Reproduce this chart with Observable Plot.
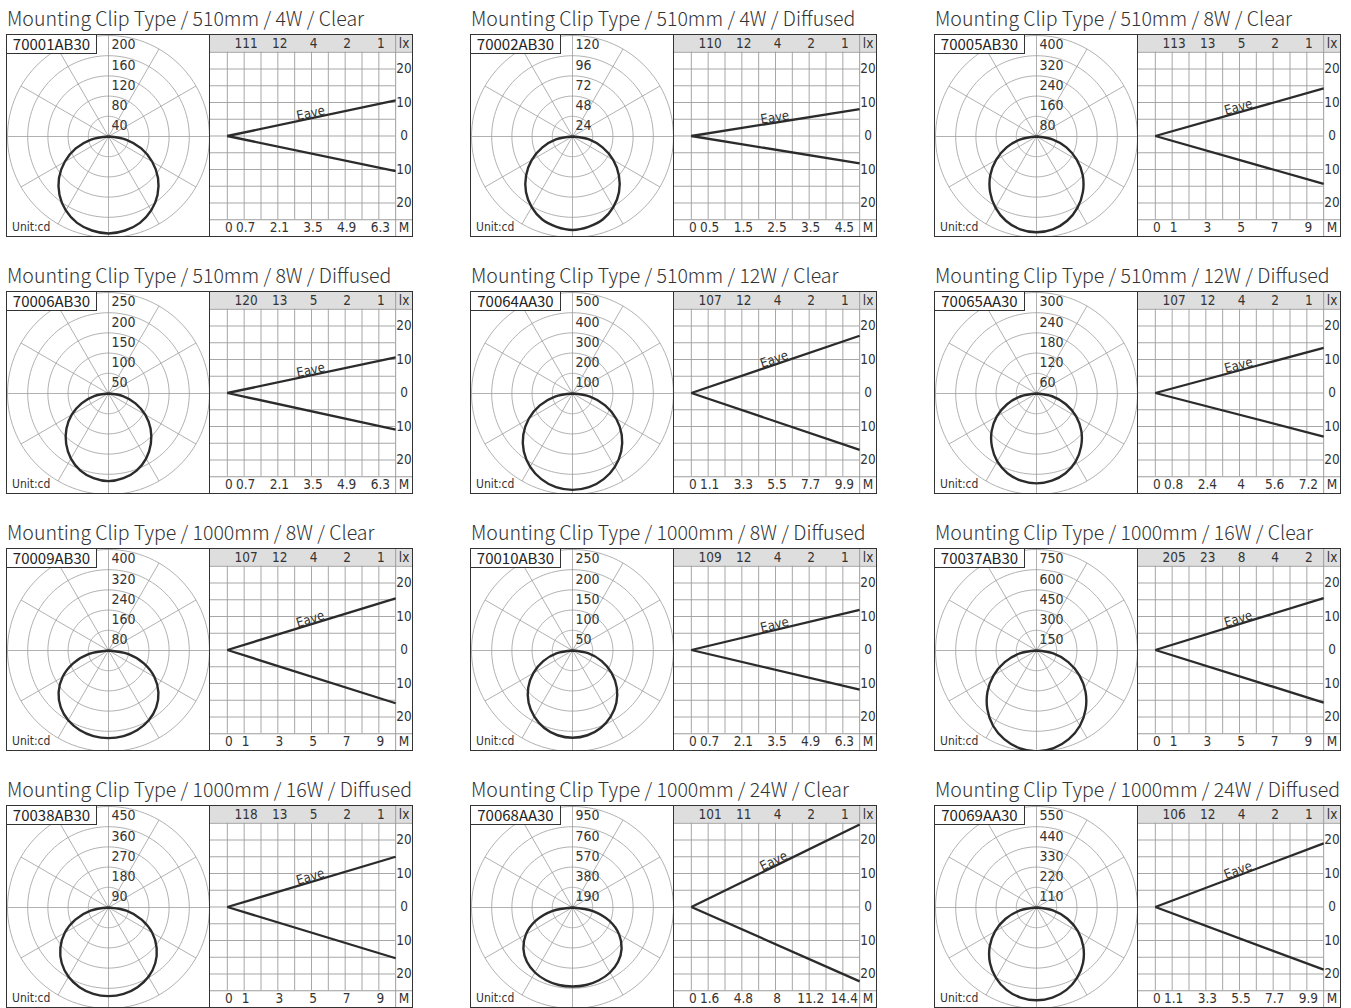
<!DOCTYPE html>
<html><head><meta charset="utf-8">
<script src="https://cdn.jsdelivr.net/npm/d3@7"></script>
<script src="https://cdn.jsdelivr.net/npm/@observablehq/plot@0.6"></script>
<style>
body{margin:0;background:#fff;}
#root{position:relative;width:1351px;height:1008px;overflow:hidden;}
.title{position:absolute;font-family:"Noto Sans CJK JP","Noto Sans",sans-serif;font-weight:300;font-size:19.5px;color:#333;white-space:nowrap;line-height:1;}
.box{position:absolute;width:405px;height:201px;border:1px solid #333;}
.polar{position:absolute;left:0;top:0;}
.divider{position:absolute;left:202px;top:0;width:1px;height:201px;background:#333;}
.grid{position:absolute;left:203px;top:0;}
.code{position:absolute;left:0;top:0;width:89px;height:18px;border-right:1px solid #333;border-bottom:1px solid #333;background:#fff;font-family:"Noto Sans CJK JP","Noto Sans",sans-serif;font-size:15px;line-height:18px;text-align:center;color:#222;}
.unit{position:absolute;left:5px;top:185px;font-family:"Liberation Sans Narrow","DejaVu Sans Condensed",sans-serif;font-size:12px;color:#333;}
</style></head>
<body><div id="root"></div>
<script>
// ---- data ----
const titles = [
  "Mounting Clip Type / 510mm / 4W / Clear",
  "Mounting Clip Type / 510mm / 4W / Diffused",
  "Mounting Clip Type / 510mm / 8W / Clear",
  "Mounting Clip Type / 510mm / 8W / Diffused",
  "Mounting Clip Type / 510mm / 12W / Clear",
  "Mounting Clip Type / 510mm / 12W / Diffused",
  "Mounting Clip Type / 1000mm / 8W / Clear",
  "Mounting Clip Type / 1000mm / 8W / Diffused",
  "Mounting Clip Type / 1000mm / 16W / Clear",
  "Mounting Clip Type / 1000mm / 16W / Diffused",
  "Mounting Clip Type / 1000mm / 24W / Clear",
  "Mounting Clip Type / 1000mm / 24W / Diffused"
];
const codes = ["70001AB30","70002AB30","70005AB30","70006AB30","70064AA30","70065AA30",
               "70009AB30","70010AB30","70037AB30","70038AB30","70068AA30","70069AA30"];
const ringMax = [200,120,400,250,500,300,400,250,750,450,950,550];
// candela values at these angles from nadir (mirrored on both sides)
const angles = [0,10,20,30,40,50,60,70,80,90];
const intensity = [
  [192,189,182,169,151,128,100,69,35,0],
  [111,109,105,97,86,72,56,38,20,0],
  [379,373,355,325,286,239,184,126,64,0],
  [217,213,203,186,163,136,105,71,36,0],
  [477,471,451,419,375,318,250,172,88,0],
  [267,263,252,233,206,174,136,93,47,0],
  [347,344,335,319,294,258,210,149,78,0],
  [216,213,204,189,169,143,112,77,39,0],
  [748,736,701,645,568,475,368,251,127,0],
  [395,391,378,356,324,280,225,157,81,0],
  [743,740,728,706,667,603,506,370,196,0],
  [505,498,477,442,394,333,261,179,91,0]
];
const luxLabels = [
  [111,12,4,2,1],[110,12,4,2,1],[113,13,5,2,1],
  [120,13,5,2,1],[107,12,4,2,1],[107,12,4,2,1],
  [107,12,4,2,1],[109,12,4,2,1],[205,23,8,4,2],
  [118,13,5,2,1],[101,11,4,2,1],[106,12,4,2,1]
];
const distLabels = [
  [0,0.7,2.1,3.5,4.9,6.3],[0,0.5,1.5,2.5,3.5,4.5],[0,1,3,5,7,9],
  [0,0.7,2.1,3.5,4.9,6.3],[0,1.1,3.3,5.5,7.7,9.9],[0,0.8,2.4,4,5.6,7.2],
  [0,1,3,5,7,9],[0,0.7,2.1,3.5,4.9,6.3],[0,1,3,5,7,9],
  [0,1,3,5,7,9],[0,1.6,4.8,8,11.2,14.4],[0,1.1,3.3,5.5,7.7,9.9]
];
const eaveUp   = [10.6,8.0,14.2,10.6,17.1,13.5,15.4,12.0,15.5,15.0,24.6,19.0];
const eaveDown = [10.5,8.2,14.3,10.9,17.0,13.0,15.9,11.8,15.7,15.3,22.2,18.7];
const sideLabels = [20,10,0,-10,-20];

// ---- drawing ----
const FONT = '"Liberation Sans Narrow","DejaVu Sans Condensed",sans-serif';
const INK = "#333", GRID = "#9d9d9d";
const root = document.getElementById("root");
const rad = a => a * Math.PI / 180;

function polarPlot(i) {
  const M = ringMax[i];
  const rings = [1,2,3,4,5].map(k => M * k / 5);
  const spokes = d3.range(0, 360, 30);
  const circ = d3.range(0, 361, 3);
  const ringPts = rings.flatMap(v => circ.map(a => ({v, a})));
  const I = intensity[i];
  const prof = [
    ...angles.map((a, j) => ({a: -a, r: I[j]})).reverse(),
    ...angles.slice(1).map((a, j) => ({a, r: I[j + 1]}))
  ];
  return Plot.plot({
    width: 202, height: 201, margin: 0,
    x: {domain: [-M, M], range: [0, 202], axis: null},
    y: {domain: [-M * 100 / 101, M], range: [201, 0], axis: null},
    style: {fontFamily: FONT, background: "white", color: INK},
    marks: [
      Plot.line(ringPts, {x: d => d.v * Math.sin(rad(d.a)), y: d => d.v * Math.cos(rad(d.a)), z: "v", stroke: GRID, strokeWidth: 0.8}),
      Plot.link(spokes, {x1: 0, y1: 0, x2: a => M * Math.sin(rad(a)), y2: a => M * Math.cos(rad(a)), stroke: GRID, strokeWidth: 0.8}),
      Plot.line(prof, {x: d => d.r * Math.sin(rad(d.a)), y: d => -d.r * Math.cos(rad(d.a)), curve: "catmull-rom", stroke: "#2b2b2b", strokeWidth: 2.4}),
      Plot.text(rings, {x: 0, y: d => d, text: d => String(d), textAnchor: "start", lineAnchor: "top", dx: 3, dy: 4, fontSize: 14, fill: INK})
    ]
  });
}

function gridPlot(i) {
  const L = distLabels[i];
  const s = L[1];
  const cols = d3.range(0, 10).map(k => k * s);
  const up = eaveUp[i], dn = -eaveDown[i];
  const ang = Math.atan((up * 201 / 60) / (10 * s * 202 / (12 * s))) * 180 / Math.PI;
  return Plot.plot({
    width: 202, height: 201, margin: 0,
    x: {domain: [-s, 11 * s], range: [0, 202], axis: null},
    y: {domain: [-30, 30], range: [201, 0], axis: null},
    style: {fontFamily: FONT, background: "white", color: INK},
    marks: [
      Plot.rect([0], {x1: -s, x2: 11 * s, y1: 25, y2: 30, fill: "#dedede"}),
      Plot.ruleX(cols, {y1: -25, y2: 25, stroke: GRID, strokeWidth: 0.9}),
      Plot.ruleX([10 * s], {y1: -30, y2: 30, stroke: GRID, strokeWidth: 1}),
      Plot.ruleY(d3.range(-20, 25, 5), {x1: -s, x2: 10 * s, stroke: GRID, strokeWidth: 0.9}),
      Plot.ruleY([-25, 25], {x1: -s, x2: 11 * s, stroke: GRID, strokeWidth: 1}),
      Plot.link([up, dn], {x1: 0, y1: 0, x2: 10 * s, y2: d => d, stroke: "#2b2b2b", strokeWidth: 2.3}),
      Plot.text([up], {x: 5.0 * s, y: d => d * 0.5, text: () => "Eave", rotate: -ang, lineAnchor: "bottom", dy: -1, fontSize: 13, fill: INK}),
      Plot.text(luxLabels[i], {x: (d, j) => L[j + 1], y: 27.5, text: d => String(d), dx: 2, fontSize: 13.5, fill: INK}),
      Plot.text(["lx"], {x: 10.5 * s, y: 27.5, text: d => d, fontSize: 13.5, fill: INK}),
      Plot.text(sideLabels, {x: 10.5 * s, y: d => d, text: d => String(Math.abs(d)), fontSize: 13.5, fill: INK}),
      Plot.text(L, {x: d => d, y: -27.5, text: d => String(d), dx: 1.5, fontSize: 13.5, fill: INK}),
      Plot.text(["M"], {x: 10.5 * s, y: -27.5, text: d => d, fontSize: 13.5, fill: INK})
    ]
  });
}

titles.forEach((t, i) => {
  const col = i % 3, row = Math.floor(i / 3);
  const left = 6 + 464 * col, top = 34 + 257 * row;
  const title = document.createElement("div");
  title.className = "title";
  title.style.left = (left + 1) + "px";
  title.style.top = (top - 26) + "px";
  title.textContent = t;
  root.appendChild(title);

  const box = document.createElement("div");
  box.className = "box";
  box.style.left = left + "px";
  box.style.top = top + "px";
  const p = polarPlot(i); p.classList.add("polar");
  const g = gridPlot(i); g.classList.add("grid");
  const dv = document.createElement("div"); dv.className = "divider";
  const code = document.createElement("div"); code.className = "code"; code.textContent = codes[i];
  const unit = document.createElement("div"); unit.className = "unit"; unit.textContent = "Unit:cd";
  box.append(p, dv, g, code, unit);
  root.appendChild(box);
});
</script>
</body></html>
